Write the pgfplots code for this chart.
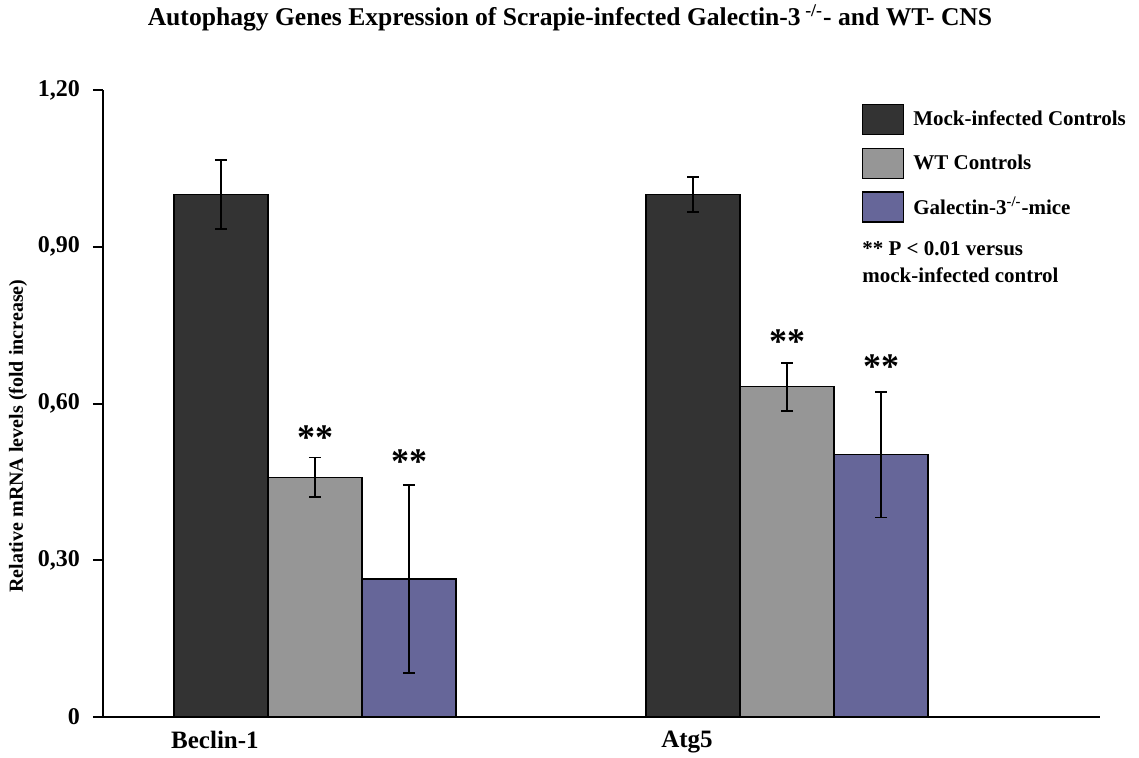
\documentclass[border=0pt]{standalone}
\usepackage{pgfplots}
\pgfplotsset{compat=1.18}
\usepackage{fontspec}
\setmainfont{Liberation Serif}
\definecolor{cmock}{HTML}{333333}
\definecolor{cwt}{HTML}{969696}
\definecolor{cgal}{HTML}{666699}
\begin{document}
\begin{tikzpicture}
\useasboundingbox (-51.5pt,-20pt) rectangle (518pt,358.5pt);
\begin{axis}[
  scale only axis, width=498.5pt, height=313.5pt,
  ybar=0pt, bar width=47pt,
  xmin=-0.449, xmax=1.663, ymin=0, ymax=1.2,
  axis x line*=bottom, axis y line*=left,
  axis line style={line width=1pt},
  xtick={0,1}, xticklabels={Beclin-1,Atg5},
  x tick label style={font=\fontsize{12.5}{14}\selectfont\bfseries, xshift=-50pt, yshift=1.5pt},
  xtick style={draw=none},
  ytick={0,0.3,0.6,0.9,1.2}, yticklabels={{0},{0,30},{0,60},{0,90},{1,20}},
  y tick label style={font=\fontsize{12}{14}\selectfont\bfseries, xshift=-3pt},
  ytick style={line width=1pt, black},
  tick align=outside, major tick length=5pt,
  ylabel={Relative mRNA levels (fold increase)},
  ylabel style={at={(axis description cs:-0.0853,0.448)}, anchor=center, font=\fontsize{10}{12}\selectfont\bfseries},
  legend image code/.code={\draw[#1] (0pt,-7.5pt) rectangle (20.5pt,7.5pt); \path (23pt,0pt);},
  legend style={at={(axis description cs:0.761,0.978)}, anchor=north west, draw=none, fill=none,
    font=\fontsize{10.5}{12}\selectfont\bfseries, row sep=6.2pt, inner sep=0pt,
    cells={anchor=west}},
  legend cell align=left,
  error bars/y dir=both, error bars/y explicit,
  error bars/error bar style={line width=0.8pt, black},
  error bars/error mark options={rotate=90, mark size=3pt, line width=0.8pt, black},
]
\addplot[fill=cmock, draw=black, line width=0.6pt] coordinates {(0,1.00) +- (0,0.066) (1,1.00) +- (0,0.034)};
\addlegendentry{Mock-infected Controls}
\addplot[fill=cwt, draw=black, line width=0.6pt] coordinates {(0,0.459) +- (0,0.038) (1,0.632) +- (0,0.046)};
\addlegendentry{WT Controls}
\addplot[fill=cgal, draw=black, line width=0.6pt] coordinates {(0,0.264) +- (0,0.180) (1,0.502) +- (0,0.120)};
\addlegendentry{Galectin-3\textsuperscript{-/-}-mice}
\end{axis}
% significance markers (axis box origin at 0,0; 0.5pt per px)
\begin{scope}[font=\fontsize{18}{18}\selectfont\bfseries]
\node at (106pt,139.5pt) {**};
\node at (153pt,127.5pt) {**};
\node at (342pt,187.5pt) {**};
\node at (389pt,175pt) {**};
\end{scope}
\node[anchor=north west, align=left, font=\fontsize{10.5}{13.5}\selectfont\bfseries, inner sep=0pt] at (379.5pt,238pt) {** P < 0.01 versus\\mock-infected control};
\node[font=\fontsize{12.8}{14}\selectfont\bfseries] at (233.5pt,349.5pt) {Autophagy Genes Expression of Scrapie-infected Galectin-3\textsuperscript{ -/-}- and WT- CNS};
\end{tikzpicture}
\end{document}
